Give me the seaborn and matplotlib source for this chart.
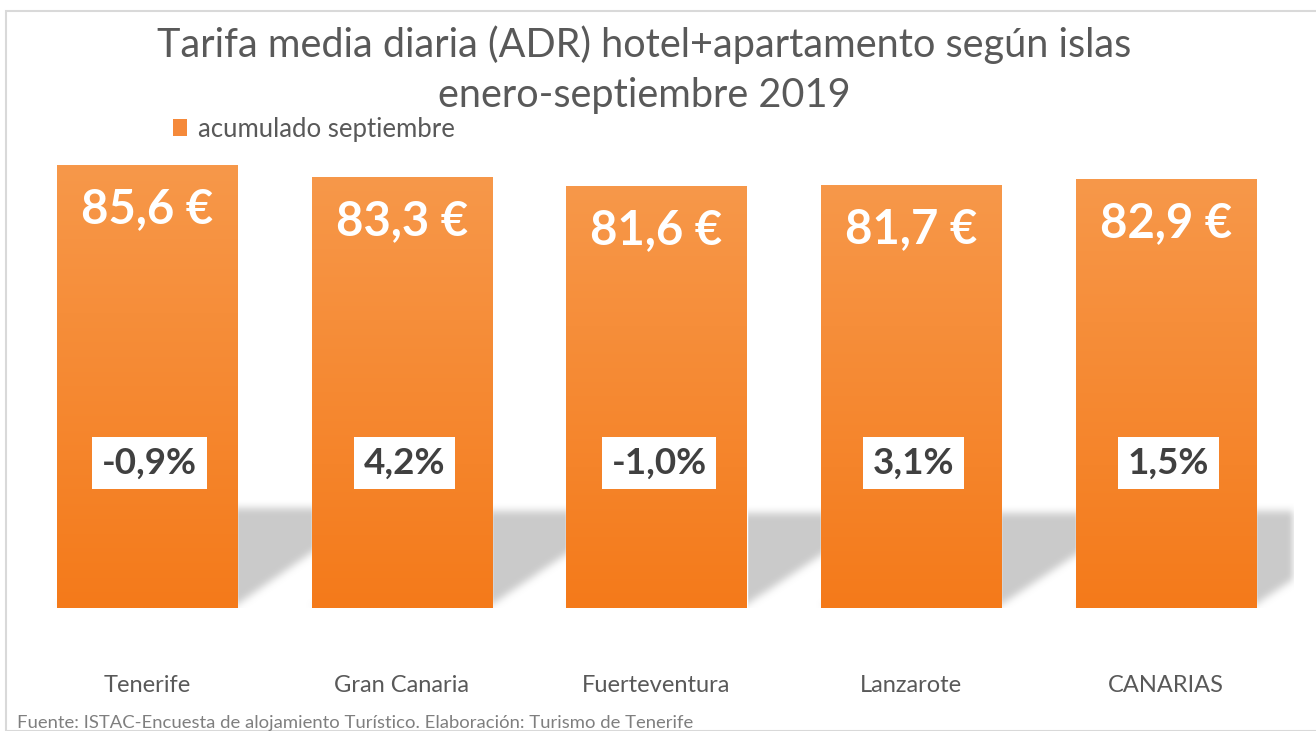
import numpy as np
import pandas as pd
import seaborn as sns
import matplotlib.pyplot as plt
from matplotlib.patches import Patch, Rectangle

# datos (ISTAC, acumulado enero-septiembre 2019)
islas = ["Tenerife", "Gran Canaria", "Fuerteventura", "Lanzarote", "CANARIAS"]
adr = [85.6, 83.3, 81.6, 81.7, 82.9]
variacion = [-0.9, 4.2, -1.0, 3.1, 1.5]

df = pd.DataFrame({"isla": islas, "adr": adr, "var": variacion})

sns.set_theme(style="white")
plt.rcParams["font.family"] = ["Lato", "DejaVu Sans"]

gris = "#595959"
naranja_arriba = np.array([247, 152, 74]) / 255
naranja_abajo = np.array([244, 122, 26]) / 255

fig = plt.figure(figsize=(13.16, 7.31), dpi=100)
W, H = 1316, 731
ax = fig.add_axes([19.6 / W, (H - 608) / H, 1273.75 / W, 468 / H])

ancho = 0.707
sns.barplot(data=df, x="isla", y="adr", color=naranja_abajo, width=ancho,
            ax=ax, zorder=2, saturation=1)
ax.set_xlim(-0.5, 4.5)
ax.set_ylim(0, 90.44)


def box_blur(a, n, axis):
    k = np.ones(n) / n
    return np.apply_along_axis(lambda r: np.convolve(r, k, mode="same"), axis, a)


# sombra en perspectiva (mascara difuminada)
xs = np.linspace(-0.5, 4.5, 1274)
ys = np.linspace(0, 26, 135)
X, Y = np.meshgrid(xs, ys)
mask = np.zeros_like(X)
s = 0.56
for i, v in enumerate(adr):
    h = 0.225 * v
    xl, xr = i - ancho / 2, i + ancho / 2
    off = s * Y / h
    dentro = (Y <= h) & (X >= xl + off) & (X <= xr + off - 0.02)
    mask[dentro] = 1
for _ in range(2):
    mask = box_blur(mask, 9, 0)
    mask = box_blur(mask, 9, 1)
rgba = np.zeros(mask.shape + (4,))
rgba[..., :3] = 203 / 255
rgba[..., 3] = np.clip(mask, 0, 1)
ax.imshow(rgba, extent=[xs[0], xs[-1], ys[0], ys[-1]], origin="lower",
          aspect="auto", zorder=0.5, interpolation="bilinear")

# degradado en cada barra
grad = np.linspace(0, 1, 256)[:, None, None]
img = naranja_arriba * (1 - grad) + naranja_abajo * grad
for p in list(ax.patches):
    x0, y0 = p.get_x(), p.get_y()
    w, hh = p.get_width(), p.get_height()
    im = ax.imshow(img, extent=[x0, x0 + w, y0, y0 + hh], origin="upper",
                   aspect="auto", zorder=2.1)
    im.set_clip_path(p)
ax.set_xlim(-0.5, 4.5)
ax.set_ylim(0, 90.44)

# etiquetas de valor y variación
for i, (v, var) in enumerate(zip(adr, variacion)):
    ax.text(i, v - 8.5, f"{v:.1f} €".replace(".", ","), ha="center", va="center",
            color="white", fontsize=34, fontweight="bold", zorder=5)
    ax.text(i + 0.01, 28, f"{var:.1f}%".replace(".", ","), ha="center", va="center",
            color="#404040", fontsize=26.5, fontweight="bold", zorder=5,
            bbox=dict(boxstyle="square,pad=0.26", facecolor="white", edgecolor="none"))

ax.set_xlabel("")
ax.set_ylabel("")
ax.set_yticks([])
ax.tick_params(axis="x", length=0, pad=48, labelsize=17, labelcolor=gris)
for sp in ax.spines.values():
    sp.set_visible(False)

fig.text(644 / W, 1 - 45 / H, "Tarifa media diaria (ADR) hotel+apartamento según islas",
         ha="center", va="center", fontsize=28.5, color=gris)
fig.text(644 / W, 1 - 95 / H, "enero-septiembre 2019",
         ha="center", va="center", fontsize=28.5, color=gris)

leg = fig.legend(handles=[Patch(facecolor="#f5893a", edgecolor="none")],
                 labels=["acumulado septiembre"], loc="center left",
                 bbox_to_anchor=(150 / W, 1 - 129 / H), frameon=False,
                 fontsize=18.5, handlelength=0.55, handleheight=0.6, handletextpad=0.4,
                 labelcolor=gris)

fig.text(17 / W, 3 / H, "Fuente: ISTAC-Encuesta de alojamiento Turístico. Elaboración: Turismo de Tenerife",
         ha="left", va="baseline", fontsize=13.3, color="#7f7f7f")

fig.patches.append(Rectangle((6 / W, 0), 2, (H - 11) / H, transform=fig.transFigure,
                             fill=False, edgecolor="#d9d9d9", linewidth=1.5))

fig.savefig("out.png", dpi=100, facecolor="white")
